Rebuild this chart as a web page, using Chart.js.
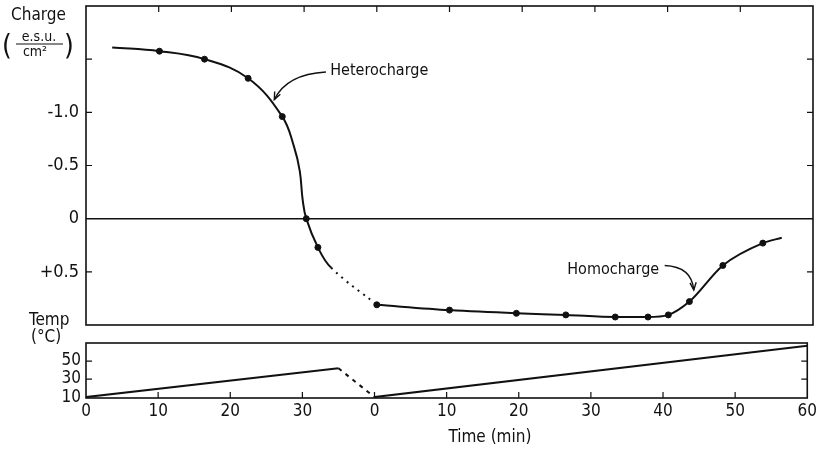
<!DOCTYPE html>
<html>
<head>
<meta charset="utf-8">
<script src="https://cdn.jsdelivr.net/npm/chart.js@4.4.1/dist/chart.umd.min.js"></script>
<style>
  html,body{margin:0;padding:0;background:#fff;}
  #wrap{position:relative;width:820px;height:456px;}
  #chartCharge{position:absolute;left:0;top:0;}
  #chartTemp{position:absolute;left:0;top:300px;}
</style>
</head>
<body>
<div id="wrap">
  <canvas id="chartCharge" width="820" height="330"></canvas>
  <canvas id="chartTemp" width="820" height="156"></canvas>
</div>
<script>
// time axis runs 0..100 min continuously; second run restarts at 40 -> "0"
const timeTicks = [0,10,20,30,40,50,60,70,80,90,100];
const timeTickLabels = ['0','10','20','30','0','10','20','30','40','50','60'];
const timeMinorTicks = [10,20,30,40,50,60,70,80,90];

const chargeTicks = [-1, -0.5, 0, 0.5];
const chargeTickLabels = ['-1.0','-0.5','0','+0.5'];
const chargeMarkTicks = [-1.5, -1, -0.5, 0.5];

const tempTicks = [10, 30, 50];
const tempTickLabels = ['10','30','50'];

// measured points (charge, e.s.u./cm2; negative plotted upward)
const ptTime   = [10.1, 16.3, 22.3, 27.0, 30.3, 31.9, 40.0, 50.0, 59.2, 66.0, 72.8, 77.3, 80.1, 83.0, 87.6, 93.1];
const ptCharge = [-1.575, -1.50, -1.32, -0.96, 0.0, 0.27, 0.81, 0.86, 0.89, 0.905, 0.925, 0.925, 0.905, 0.78, 0.44, 0.23];

// drawn curve, heterocharge part (last step dotted)
const heteroTime   = [3.6, 10.1, 16.3, 22.3, 27.0, 28.6, 29.4, 29.8, 30.3, 31.9, 33.7, 40.0];
const heteroCharge = [-1.61, -1.575, -1.50, -1.32, -0.96, -0.68, -0.45, -0.18, 0.0, 0.27, 0.46, 0.81];
// drawn curve, homocharge part
const homoTime   = [40.0, 50.0, 59.2, 66.0, 72.8, 77.3, 80.1, 83.0, 87.6, 93.1, 95.7];
const homoCharge = [0.81, 0.86, 0.89, 0.905, 0.925, 0.925, 0.905, 0.78, 0.44, 0.23, 0.18];

// temperature programme (deg C)
const tempTime = [0, 35, 40, 100];
const tempVal  = [10, 42, 10, 67];

const FONT = '"DejaVu Sans Condensed","Liberation Sans Narrow","DejaVu Sans",sans-serif';
const INK = '#111';
Chart.defaults.font.family = FONT;
Chart.defaults.color = INK;

const pts = (xs, ys) => xs.map((x,i)=>({x, y: ys[i]}));

function arrow(ctx, x0,y0, cx,cy, x1,y1){
  ctx.beginPath(); ctx.moveTo(x0,y0); ctx.quadraticCurveTo(cx,cy,x1,y1); ctx.stroke();
  const a = Math.atan2(y1-cy, x1-cx), L = 8;
  ctx.beginPath();
  ctx.moveTo(x1 - L*Math.cos(a-0.4), y1 - L*Math.sin(a-0.4));
  ctx.lineTo(x1,y1);
  ctx.lineTo(x1 - L*Math.cos(a+0.4), y1 - L*Math.sin(a+0.4));
  ctx.stroke();
}

function frameAndTicks(chart, yMarks, xMarks, xFromBottom){
  const {ctx, chartArea:a} = chart;
  const xs = chart.scales.x, ys = chart.scales.y;
  ctx.save();
  ctx.strokeStyle = INK; ctx.lineWidth = 1.6;
  ctx.strokeRect(a.left, a.top, a.right-a.left, a.bottom-a.top);
  ctx.lineWidth = 1.2;
  ctx.beginPath();
  yMarks.forEach(v=>{
    const y = ys.getPixelForValue(v);
    ctx.moveTo(a.left, y); ctx.lineTo(a.left+6, y);
    ctx.moveTo(a.right, y); ctx.lineTo(a.right-6, y);
  });
  xMarks.forEach(v=>{
    const x = xs.getPixelForValue(v);
    if(xFromBottom){ ctx.moveTo(x, a.bottom); ctx.lineTo(x, a.bottom-6); }
    else { ctx.moveTo(x, a.top); ctx.lineTo(x, a.top+6); }
  });
  ctx.stroke();
  ctx.restore();
}

const chargePlugin = {
  id:'chargeDeco',
  afterDraw(chart){
    const {ctx} = chart;
    const xs = chart.scales.x, ys = chart.scales.y;
    const P = (x,y)=>[xs.getPixelForValue(x), ys.getPixelForValue(y)];
    frameAndTicks(chart, chargeMarkTicks, timeMinorTicks, false);
    ctx.save();
    ctx.fillStyle = INK; ctx.strokeStyle = INK;
    // axis title
    ctx.font = '17px '+FONT; ctx.textAlign='left'; ctx.textBaseline='alphabetic';
    ctx.fillText('Charge', 11, 20);
    ctx.textAlign='center';
    ctx.font = '14px '+FONT;
    ctx.fillText('e.s.u.', 39, 41);
    ctx.fillText('cm²', 35, 56);
    ctx.lineWidth = 1.2;
    ctx.beginPath(); ctx.moveTo(16,44); ctx.lineTo(63,44); ctx.stroke();
    ctx.font = '28px '+FONT;
    ctx.fillText('(', 7, 55);
    ctx.fillText(')', 69, 55);
    // annotations
    ctx.font = '16px '+FONT; ctx.textAlign='left';
    let [tx,ty] = P(33.6, -1.35);
    ctx.fillText('Heterocharge', tx, ty);
    ctx.lineWidth = 1.4;
    let s = P(33.0,-1.38), c = P(27.6,-1.36), e = P(25.9,-1.12);
    arrow(ctx, s[0],s[1], c[0],c[1], e[0],e[1]);
    [tx,ty] = P(66.2, 0.52);
    ctx.fillText('Homocharge', tx, ty);
    s = P(79.6,0.44); c = P(83.3,0.45); e = P(83.6,0.67);
    arrow(ctx, s[0],s[1], c[0],c[1], e[0],e[1]);
    ctx.restore();
  }
};

const tempPlugin = {
  id:'tempDeco',
  afterDraw(chart){
    const {ctx} = chart;
    frameAndTicks(chart, [30,50], timeMinorTicks, true);
    ctx.save();
    ctx.fillStyle = INK;
    ctx.font = '17px '+FONT; ctx.textAlign='left';
    ctx.fillText('Temp', 29, 25);
    ctx.fillText('(°C)', 31, 42);
    ctx.textAlign='center';
    ctx.fillText('Time (min)', chart.scales.x.getPixelForValue(56), 142);
    ctx.restore();
  }
};

new Chart(document.getElementById('chartCharge'), {
  type:'scatter',
  data:{
    datasets:[
      { data: pts(heteroTime, heteroCharge), showLine:true, pointRadius:0, borderColor:INK, borderWidth:2,
        tension:0.4,
        segment:{ borderDash: c => c.p0.parsed.x >= 33.5 ? [2,5] : undefined } },
      { data: pts(homoTime, homoCharge), showLine:true, pointRadius:0, borderColor:INK, borderWidth:2,
        cubicInterpolationMode:'monotone' },
      { data: pts(ptTime, ptCharge), showLine:false, pointRadius:3, pointBackgroundColor:INK, pointBorderColor:INK }
    ]
  },
  options:{
    responsive:false, animation:false,
    layout:{ padding:{ top:6, right:7, bottom:5, left:0 } },
    plugins:{ legend:{display:false}, tooltip:{enabled:false} },
    scales:{
      x:{ type:'linear', min:0, max:100, display:false },
      y:{ type:'linear', min:-2, max:1, reverse:true,
          afterBuildTicks: s => { s.ticks = chargeTicks.map(v=>({value:v})); },
          afterFit: s => { s.width = 86; s.paddingTop = 0; s.paddingBottom = 0; },
          border:{ display:false },
          grid:{ drawTicks:false, lineWidth:1.5, color: c => (c.tick && c.tick.value===0) ? INK : 'rgba(0,0,0,0)' },
          ticks:{ padding:7, font:{size:18}, color:INK, callback:(v,i)=>chargeTickLabels[i] } }
    }
  },
  plugins:[chargePlugin]
});

new Chart(document.getElementById('chartTemp'), {
  type:'scatter',
  data:{
    datasets:[
      { data: pts(tempTime, tempVal), showLine:true, pointRadius:0, borderColor:INK, borderWidth:2,
        segment:{ borderDash: c => (c.p0.parsed.x >= 35 && c.p1.parsed.x <= 40) ? [4,5] : undefined } }
    ]
  },
  options:{
    responsive:false, animation:false,
    layout:{ padding:{ top:43, right:10, bottom:0, left:0 } },
    plugins:{ legend:{display:false}, tooltip:{enabled:false} },
    scales:{
      x:{ type:'linear', min:0, max:100,
          afterBuildTicks: s => { s.ticks = timeTicks.map(v=>({value:v})); },
          afterFit: s => { s.height = 58; },
          border:{ display:false },
          grid:{ display:false, drawTicks:false },
          ticks:{ padding:3, font:{size:17}, color:INK, maxRotation:0, autoSkip:false, callback:(v,i)=>timeTickLabels[i] } },
      y:{ type:'linear', min:9, max:70,
          afterBuildTicks: s => { s.ticks = tempTicks.map(v=>({value:v})); },
          afterFit: s => { s.width = 86; s.paddingTop = 0; s.paddingBottom = 0; },
          border:{ display:false },
          grid:{ display:false, drawTicks:false },
          ticks:{ padding:5, font:{size:17}, color:INK, callback:(v,i)=>tempTickLabels[i] } }
    }
  },
  plugins:[tempPlugin]
});
</script>
</body>
</html>
